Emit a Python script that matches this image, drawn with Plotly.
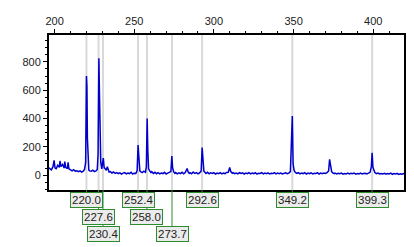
import plotly.graph_objects as go

wavelength = [196, 197, 198, 199, 199.7, 200.3, 201, 202, 203, 203.4, 204, 205, 206, 206.4, 207, 208, 208.5, 209, 210, 211, 212, 213, 214, 215, 216, 217, 218, 218.8, 219.5, 220.0, 220.3, 220.6, 221, 221.5, 222, 223, 224, 225, 226, 226.8, 227.3, 227.8, 228.2, 228.6, 229, 229.6, 230.2, 230.6, 231.1, 231.8, 232.5, 233.1, 233.6, 234.2, 235, 236, 237, 238, 239, 240, 241, 242, 243, 244, 245, 246, 247, 248, 249, 250, 251, 251.8, 252.4, 252.9, 253.5, 254, 255, 256, 257, 257.6, 258.1, 258.5, 259, 259.7, 260.5, 261, 262, 263, 264, 265, 266, 267, 268, 269, 270, 271, 272, 273, 273.6, 274.1, 274.8, 275.5, 276, 277, 278, 279, 280, 281, 282, 283.2, 283.8, 284.5, 285, 286, 287, 288, 289, 290, 291, 292, 292.6, 293.1, 293.7, 294.5, 295, 296, 297, 298, 299, 300, 301, 302, 303, 304, 305, 306, 307, 308, 309, 309.9, 310.6, 311.5, 312, 313, 314, 315, 316, 317, 318, 319, 320, 321, 322, 323, 324, 325, 326, 327, 328, 329, 330, 331, 332, 333, 334, 335, 336, 337, 338, 339, 340, 341, 342, 343, 344, 345, 346, 347, 348, 349.2, 349.7, 350.3, 351, 352, 353, 354, 355, 356, 357, 358, 359, 360, 361, 362, 363, 364, 365, 366, 367, 368, 369, 370, 371, 372, 372.6, 373.2, 373.9, 374.6, 375.5, 376, 377, 378, 379, 380, 381, 382, 383, 384, 385, 386, 387, 388, 389, 390, 391, 392, 393, 394, 395, 396, 397, 398, 398.8, 399.3, 399.8, 400.5, 401, 402, 403, 404, 405, 406, 407, 408, 409, 410, 411, 412, 413, 414, 415, 416, 417, 418, 419, 420]
intensity = [55, 45, 38, 60, 105, 50, 45, 70, 55, 100, 60, 75, 50, 95, 55, 45, 90, 45, 35, 30, 38, 28, 30, 24, 30, 22, 28, 40, 90, 700, 630, 260, 60, 35, 30, 28, 35, 25, 30, 40, 150, 825, 560, 225, 90, 45, 80, 120, 55, 45, 35, 60, 30, 22, 25, 15, 22, 12, 18, 10, 16, 8, 14, 18, 9, 15, 11, 20, 8, 14, 12, 30, 212, 90, 30, 25, 18, 28, 20, 60, 400, 180, 45, 30, 18, 25, 12, 20, 10, 17, 9, 15, 11, 20, 8, 14, 18, 25, 134, 50, 22, 12, 18, 9, 16, 11, 20, 10, 18, 47, 22, 12, 17, 10, 22, 12, 18, 9, 16, 30, 195, 70, 28, 18, 12, 20, 10, 16, 12, 18, 8, 15, 10, 17, 9, 14, 11, 19, 20, 54, 25, 14, 18, 10, 15, 9, 17, 12, 16, 8, 14, 10, 18, 9, 15, 11, 17, 8, 14, 12, 18, 9, 15, 10, 16, 8, 13, 11, 17, 9, 14, 10, 15, 8, 13, 16, 10, 14, 25, 417, 80, 35, 20, 12, 17, 9, 15, 11, 18, 8, 14, 10, 16, 9, 13, 11, 17, 8, 14, 10, 15, 12, 18, 30, 111, 55, 25, 15, 10, 14, 8, 13, 10, 15, 7, 12, 9, 14, 8, 13, 10, 15, 7, 12, 9, 14, 8, 11, 13, 9, 15, 20, 60, 158, 55, 30, 18, 10, 14, 8, 12, 9, 13, 7, 12, 9, 14, 6, 11, 8, 12, 5, 10, 7, 11, 6]

peak_labels = ["220.0", "227.6", "230.4", "252.4", "258.0", "273.7", "292.6", "349.2", "399.3"]
peak_positions = [220.0, 227.6, 230.4, 252.4, 258.0, 273.7, 292.6, 349.2, 399.3]
peak_rows = [0, 1, 2, 0, 1, 2, 0, 0, 0]

x_ticks = [200, 250, 300, 350, 400]
y_ticks = [0, 200, 400, 600, 800]

fig = go.Figure()
fig.add_trace(go.Scatter(x=wavelength, y=intensity, mode="lines",
                         line=dict(color="#0000CC", width=1.5), showlegend=False))

# plot area: y 35..190 px (155 px); rows centres in px
row_px = [200, 216.5, 233.5]
box_half = 7
shapes = []
annotations = []
for lbl, pos, row in zip(peak_labels, peak_positions, peak_rows):
    shapes.append(dict(type="line", xref="x", yref="paper", x0=pos, x1=pos, y0=0, y1=1,
                       line=dict(color="#D9D9D9", width=2), layer="below"))
    ytop = (190 - (row_px[row] - box_half)) / 155
    shapes.append(dict(type="line", xref="x", yref="paper", x0=pos, x1=pos, y0=0, y1=ytop,
                       line=dict(color="#2E8B2E", width=1), layer="above"))
    annotations.append(dict(x=pos, xref="x", y=(190 - row_px[row]) / 155, yref="paper",
                            text=lbl, showarrow=False, xanchor="center", yanchor="middle",
                            font=dict(family="Liberation Sans, Arial", size=11.5, color="#222"),
                            bgcolor="#EBEBEB", bordercolor="#2E8B2E", borderwidth=1,
                            borderpad=1))

fig.update_layout(
    width=414, height=247,
    margin=dict(l=49, r=8, t=35, b=57),
    paper_bgcolor="white", plot_bgcolor="white",
    shapes=shapes, annotations=annotations,
    font=dict(family="Liberation Sans, Arial", size=11, color="#222"),
)
fig.update_xaxes(range=[196.5, 419.3], side="top", tickvals=x_ticks, showgrid=False,
                 zeroline=False, showline=True, linecolor="black", linewidth=2, mirror=True,
                 ticks="outside", ticklen=4, tickcolor="black",
                 minor=dict(dtick=10, ticks="outside", ticklen=2, tickcolor="black"))
fig.update_yaxes(range=[-105, 990], tickvals=y_ticks, showgrid=False, zeroline=False,
                 showline=True, linecolor="black", linewidth=2, mirror=True,
                 ticks="outside", ticklen=4, tickcolor="black",
                 minor=dict(dtick=50, ticks="outside", ticklen=2, tickcolor="black"))

fig.write_html("out.html")
